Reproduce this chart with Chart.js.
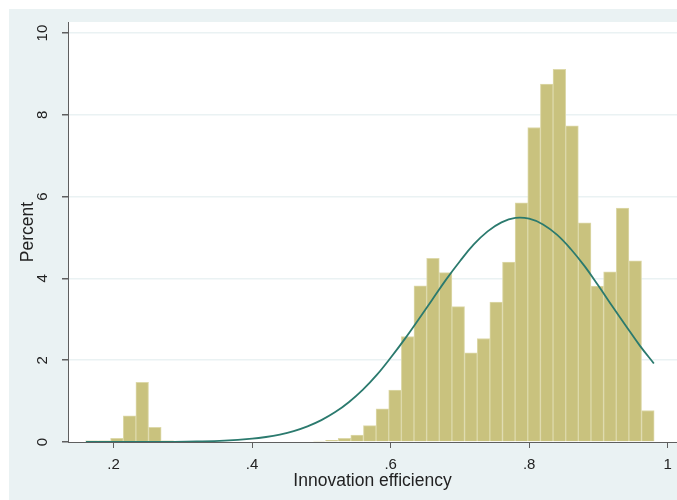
<!DOCTYPE html>
<html>
<head>
<meta charset="utf-8">
<script src="https://cdn.jsdelivr.net/npm/chart.js@4/dist/chart.umd.min.js"></script>
<style>
  html, body { margin: 0; padding: 0; background: #fff; }
  #wrap { position: absolute; left: 9px; top: 9px; width: 668px; height: 491px; }
</style>
</head>
<body>
<div id="wrap"><canvas id="hist"></canvas></div>
<script>
// histogram bins (45 bins, equal width)
const binStart = 0.1592;
const binWidth = 0.01825;
const percents = [
    0.03, 0.03, 0.09, 0.64, 1.46, 0.36, 0.03, 0, 0, 0,
    0, 0, 0, 0, 0, 0, 0, 0, 0.02, 0.04,
    0.09, 0.17, 0.40, 0.81, 1.27, 2.58, 3.82, 4.49, 4.14, 3.31,
    2.18, 2.53, 3.42, 4.40, 5.85, 7.69, 8.75, 9.11, 7.73, 5.36,
    3.81, 4.16, 5.72, 4.43, 0.77
];

// normal density overlay (percent)
const curveX = [0.16, 0.20, 0.24, 0.28, 0.32, 0.36, 0.40, 0.42, 0.44, 0.46,
    0.48, 0.50, 0.52, 0.54, 0.56, 0.58, 0.60, 0.62, 0.64, 0.66,
    0.68, 0.70, 0.72, 0.74, 0.76, 0.78, 0.80, 0.82, 0.84, 0.86,
    0.88, 0.90, 0.92, 0.94, 0.96, 0.98];
const curveY = [0.0001, 0.0003, 0.0012, 0.004, 0.012, 0.032, 0.08, 0.122, 0.183, 0.267,
    0.383, 0.535, 0.731, 0.979, 1.28, 1.64, 2.06, 2.51, 2.99, 3.48,
    3.97, 4.42, 4.83, 5.15, 5.37, 5.48, 5.46, 5.32, 5.07, 4.72,
    4.30, 3.82, 3.32, 2.83, 2.35, 1.92];

const xTicks = [0.2, 0.4, 0.6, 0.8, 1];
const yTicks = [0, 2, 4, 6, 8, 10];

const bgBlue = '#eaf2f3';
const axisGray = '#5f5f5f';
const textCol = '#222';
const fontFam = '"Liberation Sans", Arial, sans-serif';

const bars = percents.map((p, i) => ({ x: binStart + binWidth * (i + 0.5), y: p }));
const curve = curveX.map((x, i) => ({ x: x, y: curveY[i] }));

const backdrop = {
    id: 'backdrop',
    beforeDraw(chart) {
        const { ctx, chartArea: a } = chart;
        ctx.save();
        ctx.fillStyle = bgBlue;
        ctx.fillRect(0, 0, chart.width, chart.height);
        ctx.fillStyle = '#fff';
        ctx.fillRect(a.left, a.top, chart.width - a.left, a.bottom - a.top);
        ctx.restore();
    }
};

// stata-style vertical y labels
const yLabels = {
    id: 'yLabels',
    afterDraw(chart) {
        const { ctx } = chart;
        const ys = chart.scales.y;
        ctx.save();
        ctx.fillStyle = textCol;
        ctx.font = '15px ' + fontFam;
        ctx.textAlign = 'center';
        ctx.textBaseline = 'middle';
        yTicks.forEach(v => {
            ctx.save();
            ctx.translate(34, ys.getPixelForValue(v));
            ctx.rotate(-Math.PI / 2);
            ctx.fillText(String(v), 0, 0);
            ctx.restore();
        });
        ctx.restore();
    }
};

new Chart(document.getElementById('hist'), {
    data: {
        datasets: [
            {
                type: 'line',
                data: curve,
                borderColor: '#2b7a6e',
                borderWidth: 1.8,
                pointRadius: 0,
                tension: 0.4,
                fill: false,
                order: 0
            },
            {
                type: 'bar',
                data: bars,
                backgroundColor: '#c9c27e',
                borderColor: '#ddd9aa',
                borderWidth: 1,
                barPercentage: 1,
                categoryPercentage: 1,
                grouped: false,
                order: 1
            }
        ]
    },
    options: {
        responsive: true,
        maintainAspectRatio: false,
        animation: false,
        layout: { padding: { top: 13, right: 0, left: 0, bottom: 0 } },
        plugins: { legend: { display: false }, tooltip: { enabled: false } },
        scales: {
            x: {
                type: 'linear',
                min: 0.1342,
                max: 1.0134,
                offset: false,
                afterBuildTicks: s => { s.ticks = xTicks.map(v => ({ value: v })); },
                afterFit: s => { s.height = 58; s.paddingLeft = 0; s.paddingRight = 0; },
                border: { color: axisGray, width: 1 },
                grid: { offset: false, drawOnChartArea: false, drawTicks: true, tickLength: 6, tickColor: axisGray },
                ticks: {
                    padding: 8,
                    color: textCol,
                    font: { size: 15, family: fontFam },
                    callback: v => v === 1 ? '1' : v.toFixed(1).replace(/^0/, '')
                },
                title: {
                    display: true,
                    text: 'Innovation efficiency',
                    color: textCol,
                    font: { size: 17.5, family: fontFam },
                    padding: { top: 0, bottom: 8 }
                }
            },
            y: {
                type: 'linear',
                min: 0,
                max: 10.27,
                afterBuildTicks: s => { s.ticks = yTicks.map(v => ({ value: v })); },
                afterFit: s => { s.width = 59; s.paddingTop = 0; s.paddingBottom = 0; },
                border: { color: axisGray, width: 1 },
                grid: {
                    color: c => c.tick && c.tick.value === 0 ? 'rgba(0,0,0,0)' : bgBlue,
                    lineWidth: 1.5,
                    drawTicks: true,
                    tickLength: 6,
                    tickColor: axisGray
                },
                ticks: { display: false },
                title: {
                    display: true,
                    text: 'Percent',
                    color: textCol,
                    font: { size: 17.5, family: fontFam },
                    padding: { top: 8.5, bottom: 0 }
                }
            }
        }
    },
    plugins: [backdrop, yLabels]
});
</script>
</body>
</html>
